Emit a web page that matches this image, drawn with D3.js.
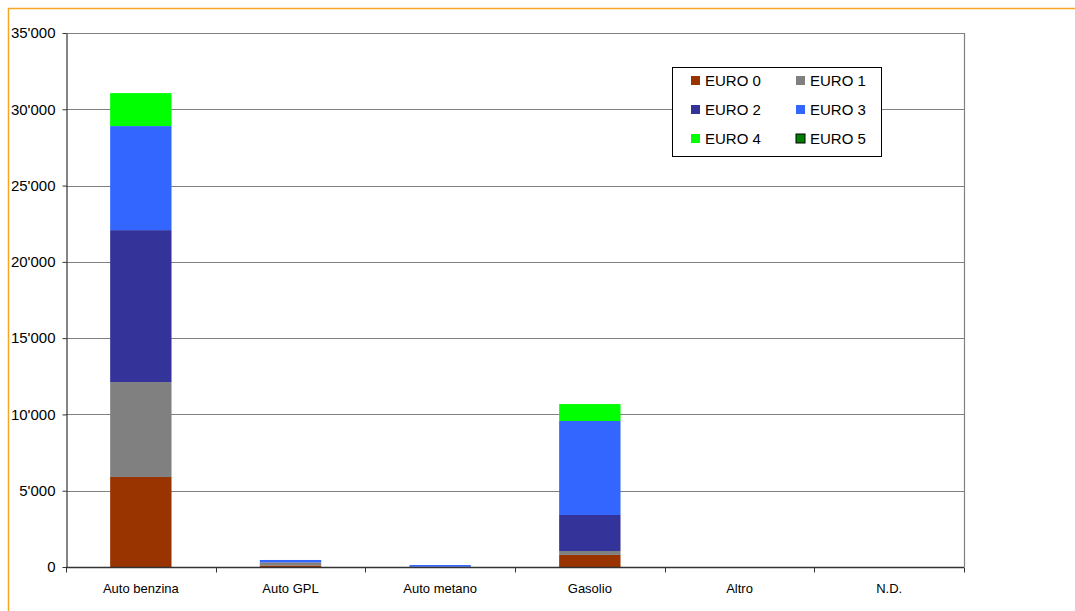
<!DOCTYPE html>
<html><head><meta charset="utf-8">
<script src="https://cdn.jsdelivr.net/npm/d3@7"></script>
<style>
html,body{margin:0;padding:0;background:#fff;}
svg{display:block;font-family:"Liberation Sans",Arial,sans-serif;}
</style></head>
<body>
<svg id="c" width="1075" height="611"></svg>
<script>
const categories = ["Auto benzina","Auto GPL","Auto metano","Gasolio","Altro","N.D."];
const seriesNames = ["EURO 0","EURO 1","EURO 2","EURO 3","EURO 4","EURO 5"];
const euro0 = [5900, 100, 0, 790, 0, 0];
const euro1 = [6220, 190, 0, 260, 0, 0];
const euro2 = [9960, 20, 20, 2360, 0, 0];
const euro3 = [6820, 150, 110, 6160, 0, 0];
const euro4 = [2160, 0, 0, 1110, 0, 0];
const euro5 = [0, 0, 0, 0, 0, 0];
const colors = ["#993300","#808080","#333399","#3366FF","#00FF00","#008000"];
const yTicks = [0,5000,10000,15000,20000,25000,30000,35000];
const tickLabels = ["0","5'000","10'000","15'000","20'000","25'000","30'000","35'000"];

const seriesVals = [euro0,euro1,euro2,euro3,euro4,euro5];
const rows = categories.map((c,i)=>{const o={cat:c}; seriesNames.forEach((s,j)=>o[s]=seriesVals[j][i]); return o;});
const stacked = d3.stack().keys(seriesNames)(rows);

const svg = d3.select("#c");
const L=66,R=964,T=33,B=567;
// orange frame
svg.append("line").attr("x1",8).attr("x2",1075).attr("y1",8.5).attr("y2",8.5).attr("stroke","#F5A623").attr("stroke-width",1.5);
svg.append("line").attr("x1",8.5).attr("x2",8.5).attr("y1",8).attr("y2",611).attr("stroke","#F5A623").attr("stroke-width",1.5);

const x = d3.scaleBand().domain(categories).range([L,R]).paddingInner(0.59).paddingOuter(0.295);
const xb = d3.scaleBand().domain(categories).range([L,R]);
const y = d3.scaleLinear().domain([0,35000]).range([B,T]);

// gridlines
svg.append("g").selectAll("line").data(yTicks.slice(1)).join("line")
 .attr("x1",L).attr("x2",R).attr("y1",d=>Math.round(y(d))+0.5).attr("y2",d=>Math.round(y(d))+0.5)
 .attr("stroke","#808080").attr("stroke-width",1.2);
// right border
svg.append("line").attr("x1",R+0.5).attr("x2",R+0.5).attr("y1",T).attr("y2",B).attr("stroke","#808080").attr("stroke-width",1.2);

// bars
svg.append("g").selectAll("g").data(stacked).join("g").attr("fill",(d,i)=>colors[i])
 .selectAll("rect").data(d=>d).join("rect")
 .attr("x",d=>x(d.data.cat)).attr("width",x.bandwidth())
 .attr("y",d=>y(d[1])).attr("height",d=>Math.max(0,y(d[0])-y(d[1])));

// y axis
const yAxis = d3.axisLeft(y).tickValues(yTicks).tickFormat((d,i)=>tickLabels[i]).tickSize(4).tickSizeOuter(0);
const gy = svg.append("g").attr("transform",`translate(${L+0.5},0)`).call(yAxis);
gy.select(".domain").attr("stroke","#333").attr("stroke-width",1.2);
gy.selectAll(".tick line").attr("stroke","#333");
gy.selectAll(".tick text").attr("font-size",15).attr("fill","#000").attr("x",-11).attr("font-family","Liberation Sans, Arial, sans-serif");

// x axis
const gx = svg.append("g").attr("transform",`translate(0,${B+0.5})`);
gx.append("line").attr("x1",L).attr("x2",R).attr("stroke","#333").attr("stroke-width",1.5);
gx.selectAll("line.t").data(d3.range(categories.length+1)).join("line").attr("class","t")
 .attr("x1",i=>Math.round(L+i*xb.step())+0.5).attr("x2",i=>Math.round(L+i*xb.step())+0.5).attr("y1",0).attr("y2",5).attr("stroke","#333");
gx.selectAll("text").data(categories).join("text")
 .attr("x",d=>xb(d)+xb.bandwidth()/2).attr("y",25).attr("text-anchor","middle").attr("font-size",13).attr("fill","#000").text(d=>d);

// legend
const lg = svg.append("g");
lg.append("rect").attr("x",672.5).attr("y",67.5).attr("width",209).attr("height",89).attr("fill","#fff").attr("stroke","#000");
seriesNames.forEach((s,i)=>{
  const col=i%2,row=Math.floor(i/2);
  const gx0=691+col*105, gy0=80+row*29;
  lg.append("rect").attr("x",gx0).attr("y",gy0-4).attr("width",9).attr("height",9).attr("fill",colors[i])
    .attr("stroke",i===5?"#000":"none");
  lg.append("text").attr("x",gx0+14).attr("y",gy0+5.5).attr("font-size",15).attr("fill","#000").text(s);
});
</script>
</body></html>
